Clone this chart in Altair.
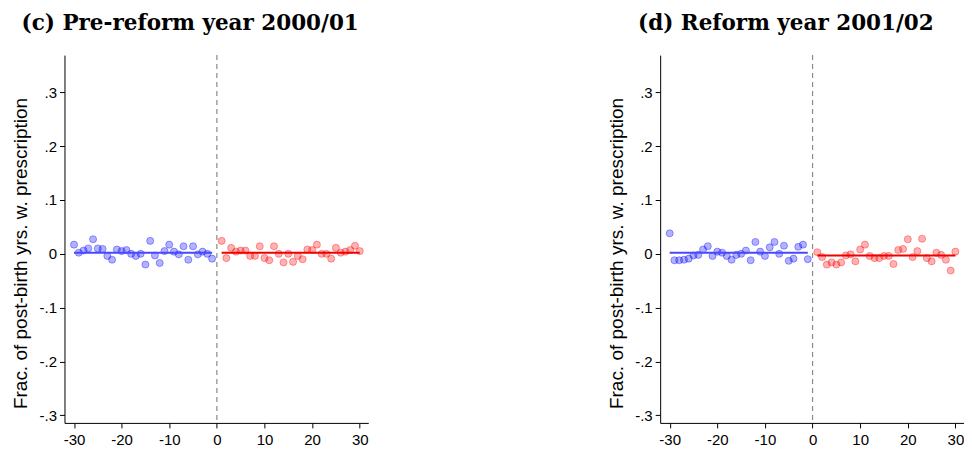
import altair as alt
import pandas as pd

# ---------------- data ----------------
x_pre = list(range(-30, 0))
x_post = list(range(1, 31))

c_pre_y = [0.017, 0.002, 0.006, 0.010, 0.027, 0.010, 0.009, -0.004, -0.011, 0.008,
           0.005, 0.007, 0.000, -0.004, 0.000, -0.020, 0.024, -0.003, -0.017, 0.005,
           0.017, 0.004, -0.001, 0.014, -0.011, 0.014, -0.001, 0.004, 0.000, -0.009]
c_post_y = [0.024, -0.008, 0.011, 0.004, 0.006, 0.006, -0.004, -0.004, 0.014, -0.008,
            -0.012, 0.014, 0.000, -0.016, 0.000, -0.015, -0.004, -0.010, 0.008, 0.007,
            0.017, 0.000, 0.000, -0.009, 0.011, 0.002, 0.004, 0.007, 0.015, 0.005]
d_pre_y = [0.038, -0.012, -0.012, -0.011, -0.009, -0.003, -0.002, 0.008, 0.014, -0.004,
           0.004, 0.002, -0.004, -0.011, -0.002, 0.000, 0.006, -0.012, 0.022, 0.004,
           -0.004, 0.012, 0.022, 0.000, 0.015, -0.013, -0.009, 0.013, 0.017, -0.010]
d_post_y = [0.003, -0.006, -0.020, -0.016, -0.020, -0.016, -0.003, -0.001, -0.014, 0.008,
            0.017, -0.004, -0.008, -0.008, -0.004, -0.004, -0.019, 0.007, 0.009, 0.027,
            -0.006, 0.005, 0.028, -0.008, -0.014, 0.002, -0.002, -0.011, -0.031, 0.004]

# fitted lines (end points)
fit_pre_x = [-30, -1]
fit_post_x = [1, 30]
c_fit_pre_y = [0.002, 0.002]
c_fit_post_y = [0.002, 0.002]
d_fit_pre_y = [0.002, 0.002]
d_fit_post_y = [-0.003, -0.003]

titles = ["(c) Pre-reform year 2000/01", "(d) Reform year 2001/02"]
y_title = "Frac. of post-birth yrs. w. prescription"
y_ticks = [-0.3, -0.2, -0.1, 0.0, 0.1, 0.2, 0.3]
y_tick_labels = ["-.3", "-.2", "-.1", "0", ".1", ".2", ".3"]
x_ticks = [-30, -20, -10, 0, 10, 20, 30]
x_tick_labels = ["-30", "-20", "-10", "0", "10", "20", "30"]

BLUE = "#0000ff"
RED = "#ff0000"
SANS = "Liberation Sans"

def label_expr(vals, labs):
    parts = [f"abs(datum.value - ({v})) < 0.0001 ? '{l}'" for v, l in zip(vals, labs)]
    return " : ".join(parts) + " : ''"

x_scale = alt.Scale(domain=[-32, 31.8], nice=False, zero=False)
y_scale = alt.Scale(domain=[-0.314, 0.369], nice=False, zero=False)

x_axis = alt.Axis(values=x_ticks, labelExpr=label_expr(x_ticks, x_tick_labels),
                  title=None, grid=False, tickSize=5, labelPadding=5,
                  labelFontSize=15, labelFont=SANS, labelColor="black",
                  domainColor="black", tickColor="black", labelFlush=False)
y_axis = alt.Axis(values=y_ticks, labelExpr=label_expr(y_ticks, y_tick_labels),
                  title=y_title, grid=False, tickSize=5, labelPadding=3,
                  labelFontSize=15, labelFont=SANS, labelColor="black",
                  titleFont=SANS, titleFontSize=19, titleFontWeight="normal",
                  titleColor="black", titlePadding=8, titleY=198,
                  domainColor="black", tickColor="black")


def panel(title, pre_y, post_y, fpre_y, fpost_y):
    pts = pd.DataFrame({
        "x": x_pre + x_post,
        "y": pre_y + post_y,
        "side": ["pre"] * len(x_pre) + ["post"] * len(x_post),
    })
    fits = pd.DataFrame({
        "x": fit_pre_x + fit_post_x,
        "y": fpre_y + fpost_y,
        "side": ["pre"] * 2 + ["post"] * 2,
    })
    color = alt.Color("side:N", scale=alt.Scale(domain=["pre", "post"], range=[BLUE, RED]),
                      legend=None)

    base_axes = alt.Chart(pts).mark_point(opacity=0).encode(
        x=alt.X("x:Q", scale=x_scale, axis=x_axis),
        y=alt.Y("y:Q", scale=y_scale, axis=y_axis),
    )
    vline = alt.Chart(pd.DataFrame({"x": [0]})).mark_rule(
        color="#8a8a8a", strokeDash=[5, 4], strokeWidth=1.2
    ).encode(x=alt.X("x:Q", scale=x_scale))
    dots = alt.Chart(pts).mark_circle(
        size=50, fillOpacity=0.3, strokeOpacity=0.4, strokeWidth=0.9
    ).encode(
        x=alt.X("x:Q", scale=x_scale),
        y=alt.Y("y:Q", scale=y_scale),
        color=color,
        stroke=alt.Stroke("side:N", scale=alt.Scale(domain=["pre", "post"], range=[BLUE, RED]),
                          legend=None),
    )
    lines = alt.Chart(fits).mark_line(strokeWidth=2).encode(
        x=alt.X("x:Q", scale=x_scale),
        y=alt.Y("y:Q", scale=y_scale),
        color=alt.Color("side:N", scale=alt.Scale(domain=["pre", "post"],
                                                  range=["#4848ff", "#ee0000"]), legend=None),
        detail="side:N",
    )
    return alt.layer(base_axes, vline, dots, lines).properties(
        width=304, height=368,
        title=alt.TitleParams(title, anchor="middle", frame="bounds", font="DejaVu Serif",
                              fontSize=21.5, fontWeight="bold", color="black", offset=20),
    ).resolve_scale(color="independent")


left = panel(titles[0], c_pre_y, c_post_y, c_fit_pre_y, c_fit_post_y)
right = panel(titles[1], d_pre_y, d_post_y, d_fit_pre_y, d_fit_post_y)

chart = alt.hconcat(left, right, spacing=239).properties(
    padding={"left": 3.5, "top": 4, "right": 0, "bottom": 0},
    background="white",
).configure_view(stroke=None, strokeWidth=0)

chart.save("out.html", embed_options={"renderer": "svg", "actions": False})
